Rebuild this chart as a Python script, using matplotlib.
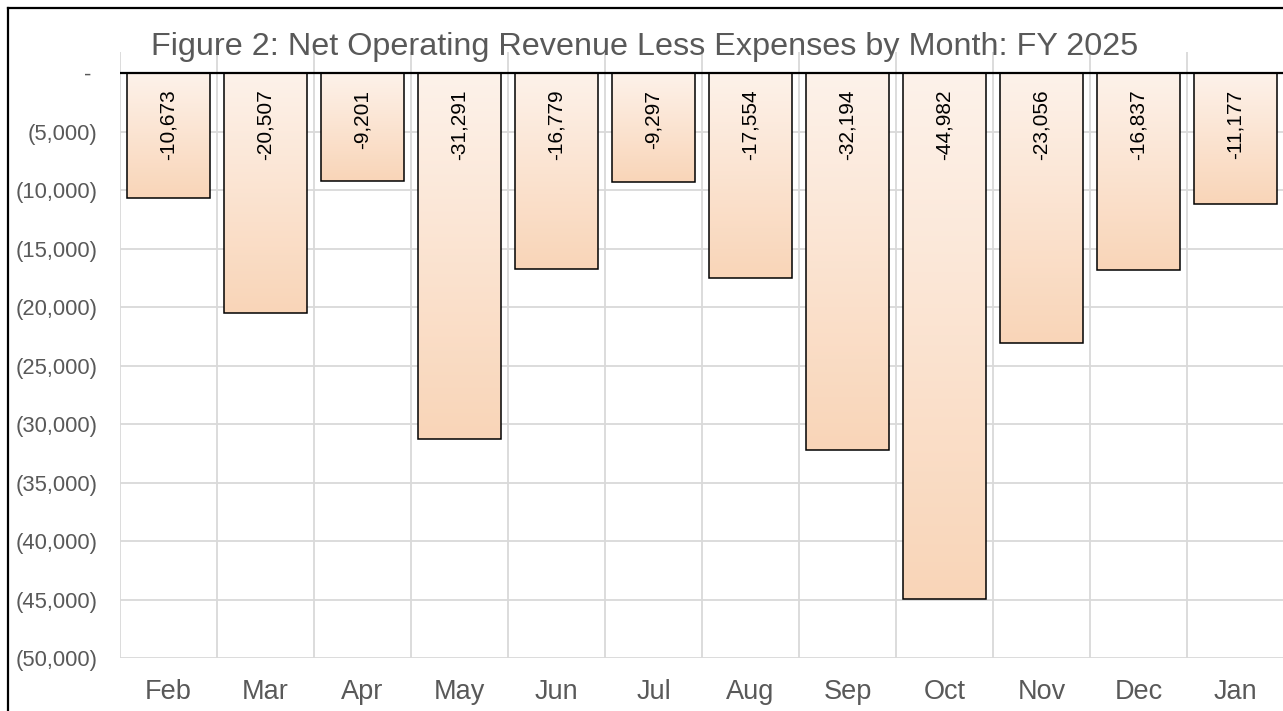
import matplotlib
matplotlib.use("Agg")
import matplotlib.pyplot as plt
import numpy as np
from matplotlib.colors import LinearSegmentedColormap
from matplotlib.lines import Line2D
from matplotlib.ticker import FuncFormatter

plt.rcParams['font.family'] = ['Liberation Sans', 'DejaVu Sans']

months = ["Feb", "Mar", "Apr", "May", "Jun", "Jul", "Aug", "Sep", "Oct", "Nov", "Dec", "Jan"]
values = [-10673, -20507, -9201, -31291, -16779, -9297, -17554, -32194, -44982, -23056, -16837, -11177]
yticks = list(range(0, -50001, -5000))
title = "Figure 2: Net Operating Revenue Less Expenses by Month: FY 2025"

W, H = 1283, 711
fig = plt.figure(figsize=(W / 100, H / 100), dpi=100)
ax = fig.add_axes([120 / W, 1 - 658 / H, (1284 - 120) / W, (658 - 52) / H])

x = np.arange(len(months))
bw = 0.85
cmap = LinearSegmentedColormap.from_list("peach", ["#FDF2EA", "#F9D5B8"])
grad = np.linspace(0, 1, 256).reshape(-1, 1)

bars = ax.bar(x, values, width=bw, facecolor="none", edgecolor="black", linewidth=1.1, zorder=3)
for b, v in zip(bars, values):
    x0 = b.get_x()
    im = ax.imshow(grad, cmap=cmap, aspect="auto", extent=(x0, x0 + bw, v, 0),
                   origin="upper", zorder=2, interpolation="bilinear")
    im.set_clip_path(b)
    ax.annotate(f"{v:,}", xy=(b.get_x() + bw / 2, 0), xytext=(0, -12),
                textcoords="offset points", rotation=90, ha="center", va="top",
                fontsize=15, color="black", zorder=4)

ax.set_xlim(-0.5, len(months) - 0.5)
ax.set_ylim(-50000, 1800)

# gridlines
for t in yticks[1:]:
    ax.axhline(t, color="#D9D9D9", lw=1.3, zorder=1)
for bx in np.arange(-0.5, len(months) + 0.5, 1):
    ax.axvline(bx, color="#D9D9D9", lw=1.3, zorder=1)
ax.axhline(0, color="black", lw=1.6, zorder=5)

ax.set_yticks(yticks)
ax.yaxis.set_major_formatter(FuncFormatter(lambda v, p: "- " if v == 0 else f"({abs(int(v)):,})"))
ax.set_xticks(x)
ax.set_xticklabels(months)
ax.tick_params(axis="y", length=0, pad=16, labelsize=15.8, labelcolor="#595959")
ax.tick_params(axis="x", length=0, pad=15, labelsize=19.5, labelcolor="#595959")
for s in ax.spines.values():
    s.set_visible(False)

fig.text(645 / W, 1 - 55 / H, title, ha="center", va="baseline", fontsize=23.3, color="#595959")

# outer chart border (left and top visible)
fig.add_artist(Line2D([7.5 / W, 7.5 / W], [0, 1 - 7.5 / H], color="black", lw=1.6, transform=fig.transFigure))
fig.add_artist(Line2D([7.5 / W, 1], [1 - 7.5 / H, 1 - 7.5 / H], color="black", lw=1.6, transform=fig.transFigure))

fig.savefig("out.png", dpi=100, facecolor="white")
